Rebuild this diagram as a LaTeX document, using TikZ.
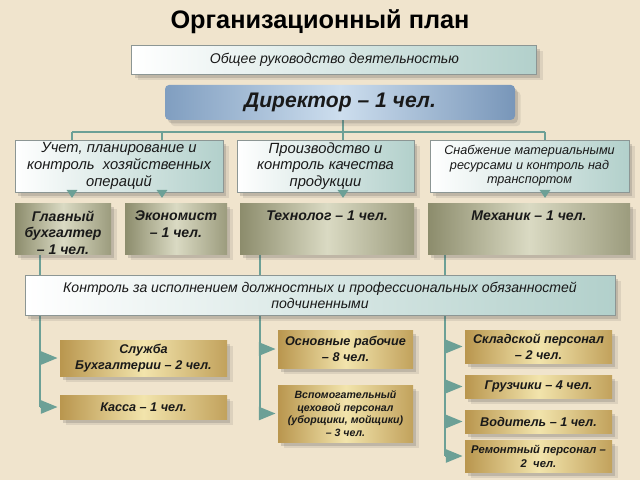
\documentclass[tikz,border=0pt]{standalone}
\usepackage{fontspec}
\setmainfont{Liberation Sans}
\usepackage{tikz}
\usetikzlibrary{shapes,arrows.meta,positioning,shadows,backgrounds,calc}
\definecolor{bgbeige}{RGB}{240,228,205}
\definecolor{linkteal}{RGB}{108,160,150}
\definecolor{edgegray}{RGB}{140,150,148}
\definecolor{paleteal}{RGB}{178,208,203}
\definecolor{dirleft}{RGB}{128,158,192}
\definecolor{dirmid}{RGB}{205,222,238}
\definecolor{dirright}{RGB}{120,150,185}
\definecolor{olivedark}{RGB}{140,140,108}
\definecolor{olivelight}{RGB}{218,218,195}
\definecolor{golddark}{RGB}{185,150,78}
\definecolor{goldlight}{RGB}{242,228,172}
\definecolor{inkdark}{RGB}{25,25,25}

\begin{document}
\begin{tikzpicture}[
    softshadow/.style={drop shadow={shadow xshift=4pt, shadow yshift=-4.5pt, opacity=.12, fill=black!70},
                       drop shadow={shadow xshift=2pt, shadow yshift=-2.5pt, opacity=.2, fill=black!70}},
    plain/.style={rectangle, draw=edgegray, line width=.6pt, left color=white, right color=paleteal,
                  softshadow, align=center, text=inkdark, inner sep=1pt},
    head/.style={rectangle, rounded corners=3pt, left color=dirleft, right color=dirright, middle color=dirmid,
                 softshadow, text=inkdark, font=\bfseries\itshape\fontsize{15}{17}\selectfont},
    staff/.style={rectangle, left color=olivedark, right color=olivedark!80!olivelight, middle color=olivelight,
                  softshadow, minimum height=1.275cm, inner sep=0pt},
    stafftext/.style={anchor=north, yshift=-3.5pt, align=center, text=inkdark, inner sep=2pt,
                      font=\bfseries\itshape\fontsize{10}{11.8}\selectfont},
    unit/.style={rectangle, left color=golddark, right color=golddark!85!goldlight, middle color=goldlight,
                 softshadow, align=center, text=inkdark, inner sep=1pt,
                 font=\bfseries\itshape\fontsize{9}{11.2}\selectfont},
    link/.style={draw=linkteal, line width=2pt},
    down/.style={link, -{Triangle[length=0.2cm,width=0.26cm]}, shorten >=0.12cm},
    side/.style={link, -{Triangle[length=0.42cm,width=0.32cm]}, shorten >=0.05cm}
]
\useasboundingbox (0,0) rectangle (16,-12);

% Title and top management
\node[font=\bfseries\fontsize{18}{22}\selectfont] (title) at (8,-0.55) {Организационный план};
\node[plain, minimum width=10.125cm, minimum height=0.725cm, font=\itshape\fontsize{10}{12}\selectfont] (gen) at (8.36,-1.49) {Общее руководство деятельностью};
\node[head, minimum width=8.75cm, minimum height=0.875cm] (dir) at (8.5,-2.56) {Директор – 1 чел.};

% Departments
\node[plain, minimum width=5.2cm, minimum height=1.3cm, font=\itshape\fontsize{10.5}{11.8}\selectfont] (acc) at (2.975,-4.15) {Учет, планирование и\\контроль\ \ хозяйственных\\операций};
\node[plain, minimum width=4.425cm, minimum height=1.3cm, font=\itshape\fontsize{10.5}{11.8}\selectfont] (prod) at (8.1375,-4.15) {Производство и\\контроль качества\\продукции};
\node[plain, minimum width=4.975cm, minimum height=1.3cm, font=\itshape\fontsize{9}{10.4}\selectfont] (sup) at (13.2375,-4.15) {Снабжение материальными\\ресурсами и контроль над\\транспортом};

% Specialists
\node[staff, minimum width=2.4cm, label={[stafftext]north:{Главный\\бухгалтер\\– 1 чел.}}] (gb) at (1.575,-5.7125) {};
\node[staff, minimum width=2.55cm, label={[stafftext]north:{Экономист\\– 1 чел.}}] (eco) at (4.4,-5.7125) {};
\node[staff, minimum width=4.35cm, label={[stafftext]north:{Технолог – 1 чел.}}] (tech) at (8.175,-5.7125) {};
\node[staff, minimum width=5.05cm, label={[stafftext]north:{Механик – 1 чел.}}] (mech) at (13.225,-5.7125) {};

% Control band
\node[plain, minimum width=14.75cm, minimum height=1cm, font=\itshape\fontsize{10}{11.5}\selectfont] (ctrl) at (8,-7.375) {Контроль за исполнением должностных и профессиональных обязанностей\\подчиненными};

% Staff units
\node[unit, minimum width=4.175cm, minimum height=0.9cm] (sb) at (3.5875,-8.95) {Служба\\Бухгалтерии – 2 чел.};
\node[unit, minimum width=4.175cm, minimum height=0.6cm] (kas) at (3.5875,-10.175) {Касса – 1 чел.};
\node[unit, minimum width=3.375cm, minimum height=0.95cm] (osn) at (8.6375,-8.725) {Основные рабочие\\– 8 чел.};
\node[unit, minimum width=3.375cm, minimum height=1.425cm, font=\bfseries\itshape\fontsize{7.5}{8.9}\selectfont] (vsp) at (8.6375,-10.3375) {Вспомогательный\\цеховой персонал\\(уборщики, мойщики)\\– 3 чел.};
\node[unit, minimum width=3.675cm, minimum height=0.825cm] (skl) at (13.4625,-8.6625) {Складской персонал\\– 2 чел.};
\node[unit, minimum width=3.675cm, minimum height=0.575cm] (gruz) at (13.4625,-9.6625) {Грузчики – 4 чел.};
\node[unit, minimum width=3.675cm, minimum height=0.575cm] (vod) at (13.4625,-10.5375) {Водитель – 1 чел.};
\node[unit, minimum width=3.675cm, minimum height=0.8cm, font=\bfseries\itshape\fontsize{8}{10}\selectfont] (rem) at (13.4625,-11.4) {Ремонтный персонал –\\2\ \ чел.};

% Connectors behind the boxes
\begin{scope}[on background layer]
\fill[bgbeige] (0,0) rectangle (16,-12);
\coordinate (cA) at (1.8,-3.3);
\coordinate (cB) at (4.05,-3.3);
\coordinate (cC) at (8.575,-3.3);
\coordinate (cD) at (13.625,-3.3);
\coordinate (lv) at (1.0,-6.5);
\coordinate (mv) at (6.5,-6.5);
\coordinate (rv) at (11.125,-6.5);
\draw[link] (dir.south -| cC) -- (cC);
\draw[link] (cA) -- (cD);
\foreach \c in {cA,cB,cC,cD}
    \draw[link] (\c) -- (\c |- acc.north);
\draw[link] (gb.south -| lv) -- (kas.west -| lv);
\draw[link] (tech.south -| mv) -- (vsp.west -| mv);
\draw[link] (mech.south -| rv) -- (rem.west -| rv);
\end{scope}

% Arrows
\draw[down] (acc.south -| cA) -- (gb.north -| cA);
\draw[down] (acc.south -| cB) -- (eco.north -| cB);
\draw[down] (prod.south -| cC) -- (tech.north -| cC);
\draw[down] (sup.south -| cD) -- (mech.north -| cD);
\foreach \u/\v in {sb/lv,kas/lv,osn/mv,vsp/mv,skl/rv,gruz/rv,vod/rv,rem/rv}
    \draw[side] (\u.west -| \v) -- (\u.west);

\end{tikzpicture}
\end{document}
